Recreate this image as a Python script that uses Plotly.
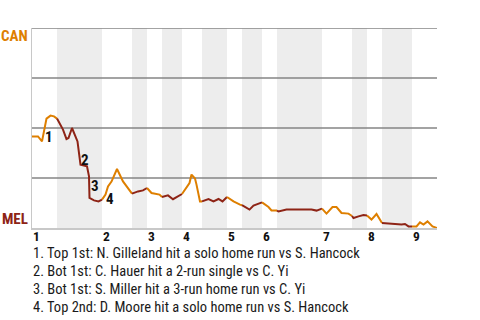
import plotly.graph_objects as go

# Half-inning boundaries (plate-appearance index) and win probability for CAN
half_bounds = [0, 5, 14, 20, 23, 26, 30, 34, 39, 42, 46, 49, 58, 64, 67, 70, 76, 81]
inning_labels = ["1", "2", "3", "4", "5", "6", "7", "8", "9"]

pa_x = [0, 1.2, 2, 2.9, 3.7, 4.4, 5,
        5.7, 6.2, 6.9, 7.3, 8, 8.5, 9.1, 9.7, 10.5, 11, 11.4, 11.5, 12.4, 13.3, 14,
        14.7, 15.2, 15.9, 17, 18.2, 20,
        21.2, 22.2, 23,
        23.9, 25.5, 26,
        27.2, 28.2, 29.2, 30,
        30.9, 31.5, 31.9, 32.6, 32.9, 33.6, 34,
        35.3, 36.3, 37.3, 38.1, 39,
        40.3, 41.6, 42,
        42.6, 43.5, 44.3, 45.6, 46,
        47.3, 47.9, 49,
        49.3, 50.9, 55.9, 56.9, 57.6, 58,
        58.9, 60.1, 60.9, 61.9, 63.3, 64,
        64.3, 65.3, 66.3, 67,
        67.9, 68.9, 70,
        71.9, 72.3, 73.9, 74.6, 75.3, 76,
        76.9, 77.6, 78.3, 79.1, 80.1, 81]
win_prob = [0.458, 0.458, 0.433, 0.547, 0.562, 0.558, 0.547,
            0.517, 0.492, 0.445, 0.45, 0.5, 0.467, 0.433, 0.317, 0.312, 0.308, 0.258, 0.15, 0.138, 0.133, 0.142,
            0.167, 0.208, 0.232, 0.295, 0.233, 0.172,
            0.183, 0.188, 0.2,
            0.175, 0.167, 0.155,
            0.163, 0.144, 0.158, 0.17,
            0.2, 0.225, 0.267, 0.247, 0.217, 0.133, 0.133,
            0.145, 0.133, 0.145, 0.133, 0.155,
            0.133, 0.117, 0.114,
            0.105, 0.092, 0.112, 0.125, 0.128,
            0.105, 0.088, 0.087,
            0.083, 0.092, 0.092, 0.087, 0.092, 0.097,
            0.072, 0.105, 0.105, 0.075, 0.072, 0.06,
            0.05, 0.058, 0.065, 0.063,
            0.042, 0.07, 0.025,
            0.022, 0.018, 0.017, 0.02, 0.008, 0.008,
            0.008, 0.028, 0.017, 0.033, 0.008, 0.0]

event_labels = ["1", "2", "3", "4"]
event_x = [3.4, 10.6, 12.5, 15.5]
event_y = [0.454, 0.34, 0.209, 0.147]
event_text = [
    "1. Top 1st: N. Gilleland hit a solo home run vs S. Hancock",
    "2. Bot 1st: C. Hauer hit a 2-run single vs C. Yi",
    "3. Bot 1st: S. Miller hit a 3-run home run vs C. Yi",
    "4. Top 2nd: D. Moore hit a solo home run vs S. Hancock",
]
teams = ["CAN", "MEL"]

ORANGE = "#DE7F00"
DARKRED = "#8E2416"
FONT = "Roboto Condensed, Liberation Sans Narrow, Roboto, sans-serif"

fig = go.Figure()

# line segments colored by half-inning
for h in range(len(half_bounds) - 1):
    lo, hi = half_bounds[h], half_bounds[h + 1]
    xs, ys = [], []
    prev = [i for i, x in enumerate(pa_x) if x <= lo]
    if prev:
        xs.append(pa_x[prev[-1]]); ys.append(win_prob[prev[-1]])
    for x, y in zip(pa_x, win_prob):
        if lo < x <= hi:
            xs.append(x); ys.append(y)
    fig.add_trace(go.Scatter(x=xs, y=ys, mode="lines",
                             line=dict(color=ORANGE if h % 2 == 0 else DARKRED, width=2),
                             hoverinfo="skip", showlegend=False))

shapes = []
for h in range(1, len(half_bounds) - 1, 2):
    shapes.append(dict(type="rect", xref="x", yref="paper", x0=half_bounds[h], x1=half_bounds[h + 1],
                       y0=0, y1=1, fillcolor="#EDEDED", line=dict(width=0), layer="below"))
for g in [0.25, 0.5, 0.75, 1.0]:
    shapes.append(dict(type="line", xref="paper", yref="y", x0=0, x1=1, y0=g, y1=g,
                       line=dict(color="#858585", width=1.5), layer="below"))

annotations = []
for lab, x, y in zip(event_labels, event_x, event_y):
    annotations.append(dict(x=x, y=y, xref="x", yref="y", text=lab, showarrow=False, borderpad=0,
                            font=dict(family=FONT, size=15, color="#111111", weight="bold")))
for k, lab in enumerate(inning_labels):
    annotations.append(dict(x=half_bounds[2 * k], y=-0.04, xref="x", yref="paper", text=lab, showarrow=False,
                            xanchor="left", yanchor="middle", borderpad=0,
                            font=dict(family=FONT, size=13.5, color="#111111", weight="bold")))
for k, t in enumerate(event_text):
    annotations.append(dict(x=0, y=-0.128 - k * 0.09, xref="paper", yref="paper", text=t, showarrow=False,
                            xanchor="left", yanchor="middle", borderpad=0,
                            font=dict(family=FONT, size=14.5, color="#1a1a1a")))
annotations.append(dict(x=0, y=1, xref="paper", yref="paper", text=teams[0], showarrow=False,
                        xanchor="right", yanchor="top", xshift=-2, yshift=3,
                        font=dict(family=FONT, size=15, color=ORANGE, weight="bold")))
annotations.append(dict(x=0, y=0, xref="paper", yref="paper", text=teams[1], showarrow=False,
                        xanchor="right", yanchor="bottom", xshift=-2, yshift=-2,
                        font=dict(family=FONT, size=15, color=DARKRED, weight="bold")))

fig.update_layout(
    width=480, height=320,
    margin=dict(l=32, r=43, t=28, b=92),
    plot_bgcolor="white", paper_bgcolor="white",
    xaxis=dict(range=[0, 81], showgrid=False, zeroline=False, showticklabels=False, ticks="",
               showline=True, linecolor="#C8C8C8", linewidth=2),
    yaxis=dict(range=[0, 1], showgrid=False, zeroline=False, showticklabels=False, ticks="",
               showline=True, linecolor="#C8C8C8", linewidth=1),
    shapes=shapes, annotations=annotations,
)

fig.write_html("out.html")
